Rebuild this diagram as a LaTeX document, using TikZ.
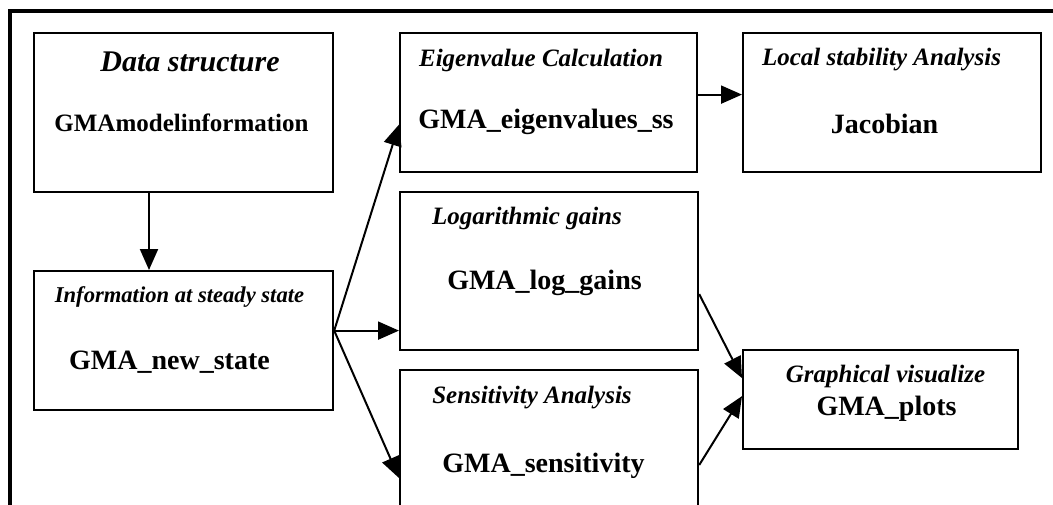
\documentclass[tikz,border=0pt]{standalone}
\usepackage{fontspec}
\setmainfont{Liberation Serif}
\usetikzlibrary{arrows.meta}

\tikzset{
  box/.style={draw, line width=1.1pt, anchor=north west, inner sep=0pt},
  title/.style={anchor=base, font=\bfseries\itshape\fontsize{12.5}{14}\selectfont},
  prog/.style={anchor=base, font=\bfseries\fontsize{14}{16}\selectfont},
  flow/.style={-{Triangle[length=10.5pt,width=9pt]}, line width=1pt},
}

\begin{document}
\begin{tikzpicture}[x=0.5pt,y=-0.5pt]
\useasboundingbox (0,0) rectangle (1053,504);
\draw[line width=1.9pt] (1080,11) -- (10,11) -- (10,530);

% boxes
\node[box, minimum width=149.5pt, minimum height=79.5pt] (data) at (33,32) {};
\node[box, minimum width=149.5pt, minimum height=69.5pt] (state) at (33,270) {};
\node[box, minimum width=148.5pt, minimum height=69.5pt] (eig) at (399,32) {};
\node[box, minimum width=149pt, minimum height=79pt] (gains) at (399,191) {};
\node[box, minimum width=149pt, minimum height=82pt] (sens) at (399,369) {};
\node[box, minimum width=149pt, minimum height=69.5pt] (stab) at (742,32) {};
\node[box, minimum width=137.5pt, minimum height=49.5pt] (plots) at (742,349) {};

% texts
\node[title, font=\bfseries\itshape\fontsize{15}{17}\selectfont] (dataT) at (190,71) {Data structure};
\node[prog, font=\bfseries\fontsize{12.5}{14}\selectfont] (dataP) at (181.5,131) {GMAmodelinformation};
\node[title, font=\bfseries\itshape\fontsize{11.3}{13}\selectfont] (stateT) at (179.5,302) {Information at steady state};
\node[prog] (stateP) at (169.5,369) {GMA\_new\_state};
\node[title] (eigT) at (541,66) {Eigenvalue Calculation};
\node[prog] (eigP) at (546,128) {GMA\_eigenvalues\_ss};
\node[title] (gainsT) at (527,224) {Logarithmic gains};
\node[prog] (gainsP) at (544.5,289) {GMA\_log\_gains};
\node[title] (sensT) at (532,403) {Sensitivity Analysis};
\node[prog] (sensP) at (543.5,472) {GMA\_sensitivity};
\node[title] (stabT) at (881.5,65) {Local stability Analysis};
\node[prog] (stabP) at (884.5,133) {Jacobian};
\node[title] (plotsT) at (885.5,382) {Graphical visualize};
\node[prog] (plotsP) at (886.5,415) {GMA\_plots};

% connectors
\coordinate (fan) at ([yshift=5pt]state.east);
\draw[flow] ([xshift=58pt]data.south west) -- ([xshift=58pt]state.north west);
\draw[flow] (fan) -- ([yshift=-11pt]eig.west);
\draw[flow] (fan) -- (fan -| gains.west);
\draw[flow] (fan) -- ([yshift=-54.5pt]sens.north west);
\draw[flow] ([yshift=4pt]eig.east) -- ([yshift=4pt]eig.east -| stab.west);
\draw[flow] ([yshift=-11.5pt]gains.east) -- ([yshift=10.75pt]plots.west);
\draw[flow] ([yshift=-48pt]sens.north east) -- ([yshift=1.75pt]plots.west);
\end{tikzpicture}
\end{document}
